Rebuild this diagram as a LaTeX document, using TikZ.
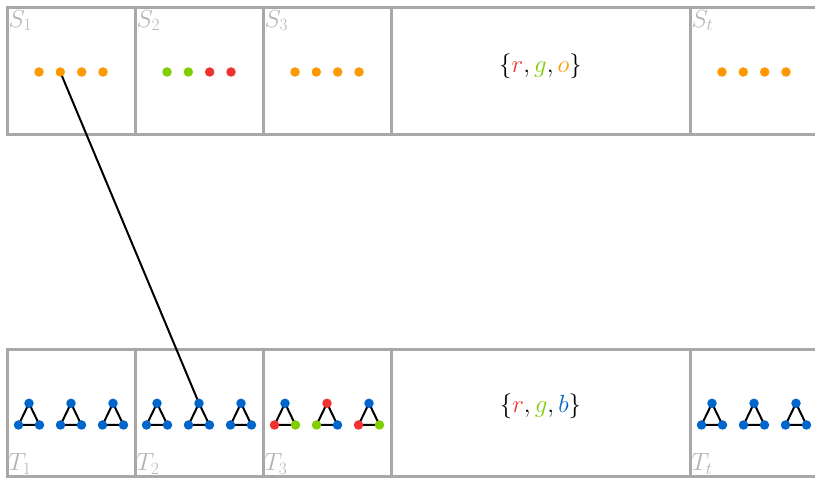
\documentclass[tikz,border=0pt]{standalone}
\definecolor{cor}{RGB}{255,152,0}
\definecolor{cgr}{RGB}{128,206,0}
\definecolor{cre}{RGB}{240,50,50}
\definecolor{cbl}{RGB}{0,102,204}
\definecolor{framec}{RGB}{168,168,168}
\definecolor{labc}{RGB}{180,180,180}
\pgfdeclarelayer{bg}
\pgfsetlayers{bg,main}
\begin{document}
\begin{tikzpicture}[x=1pt,y=-1pt,
  dot/.style={circle,fill=#1,inner sep=0pt,minimum size=9.5pt},
  frameline/.style={draw=framec,line width=3pt},
  lbl/.style={text=labc,font=\fontsize{27}{31}\selectfont,inner sep=0pt},
  settext/.style={font=\fontsize{23}{27}\selectfont,inner sep=0pt},
  edgeline/.style={line width=2pt,black}]
\useasboundingbox (0,0) rectangle (815,478);
% frames (bottom layer)
\begin{pgfonlayer}{bg}
\draw[frameline] (818,8) -- (7,8) -- (7,135) -- (818,135);
\draw[frameline] (818,350) -- (7,350) -- (7,477) -- (818,477);
\foreach \xx in {135,263,391,690}{
  \draw[frameline] (\xx,8) -- (\xx,135);
  \draw[frameline] (\xx,350) -- (\xx,477);
}
\end{pgfonlayer}
% labels
\node[lbl,anchor=north west] (ls1) at (8.5,10) {$S_1$};
\node[lbl,anchor=north west] (ls2) at (136.5,10) {$S_2$};
\node[lbl,anchor=north west] (ls3) at (264.5,10) {$S_3$};
\node[lbl,anchor=north west] (lst) at (691.5,10) {$S_t$};
\node[lbl,anchor=base west] (lt1) at (8.5,471) {$T_1$};
\node[lbl,anchor=base west] (lt2) at (136.5,471) {$T_2$};
\node[lbl,anchor=base west] (lt3) at (264.5,471) {$T_3$};
\node[lbl,anchor=base west] (ltt) at (691.5,471) {$T_t$};
% sets
\node[settext] (setS) at (540.5,66.5) {$\{\textcolor{cre}{r},\textcolor{cgr}{g},\textcolor{cor}{o}\}$};
\node[settext] (setT) at (540.5,406.5) {$\{\textcolor{cre}{r},\textcolor{cgr}{g},\textcolor{cbl}{b}\}$};
% top dots
\foreach \c/\n/\ca/\cb/\cc/\cd in {71/1/cor/cor/cor/cor,199/2/cgr/cgr/cre/cre,327/3/cor/cor/cor/cor,754/t/cor/cor/cor/cor}{
  \node[dot=\ca] (s\n-a) at (\c-32,72) {};
  \node[dot=\cb] (s\n-b) at (\c-10.7,72) {};
  \node[dot=\cc] (s\n-c) at (\c+10.7,72) {};
  \node[dot=\cd] (s\n-d) at (\c+32,72) {};
}
% triangles
\foreach \x/\n/\k/\ct/\cl/\cr in {
  29/1/1/cbl/cbl/cbl, 71/1/2/cbl/cbl/cbl, 113/1/3/cbl/cbl/cbl,
  157/2/1/cbl/cbl/cbl, 199/2/2/cbl/cbl/cbl, 241/2/3/cbl/cbl/cbl,
  285/3/1/cbl/cre/cgr, 327/3/2/cre/cgr/cbl, 369/3/3/cbl/cre/cgr,
  712/t/1/cbl/cbl/cbl, 754/t/2/cbl/cbl/cbl, 796/t/3/cbl/cbl/cbl}{
  \node[dot=\ct] (t\n-\k-t) at (\x,403.3) {};
  \node[dot=\cl] (t\n-\k-l) at (\x-10.5,425) {};
  \node[dot=\cr] (t\n-\k-r) at (\x+10.5,425) {};
  \begin{pgfonlayer}{bg}
    \draw[edgeline] (t\n-\k-t.center) -- (t\n-\k-l.center) -- (t\n-\k-r.center) -- cycle;
  \end{pgfonlayer}
}
% connector
\begin{pgfonlayer}{bg}
  \draw[edgeline] (s1-b.center) -- (t2-2-t.center);
\end{pgfonlayer}
\end{tikzpicture}
\end{document}
